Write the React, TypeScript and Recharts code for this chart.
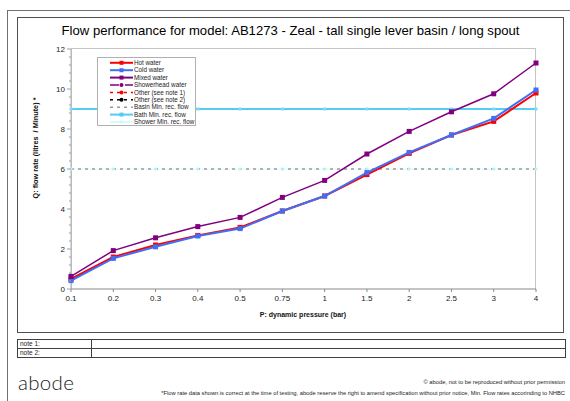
import { LineChart, Line, XAxis, YAxis } from 'recharts';

const pressures = ['0.1', '0.2', '0.3', '0.4', '0.5', '0.75', '1', '1.5', '2', '2.5', '3', '4'];
const hotWater = [0.5, 1.6, 2.2, 2.68, 3.08, 3.9, 4.65, 5.72, 6.78, 7.7, 8.38, 9.8];
const coldWater = [0.42, 1.53, 2.11, 2.65, 3.02, 3.9, 4.65, 5.82, 6.83, 7.7, 8.53, 9.95];
const mixedWater = [0.63, 1.92, 2.56, 3.12, 3.58, 4.58, 5.43, 6.75, 7.88, 8.86, 9.76, 11.3];
const basinMin = 6;
const bathMin = 9;
const showerMin = 6;
const yTickLabels = [0, 2, 4, 6, 8, 10, 12];

const data = pressures.map((p, i) => ({
  p,
  hot: hotWater[i],
  cold: coldWater[i],
  mixed: mixedWater[i],
  basin: basinMin,
  bath: bathMin,
  shower: showerMin,
}));

// excel-style minor ticks, 5 per major step
const yTicks: number[] = [];
for (let i = 0; i <= 30; i++) yTicks.push(Math.round(i * 4) / 10);

const FONT = 'Arial, "Liberation Sans", sans-serif';

function squareDot(fill: string, size: number) {
  return (props: any) => {
    const { cx, cy, index } = props;
    if (cx == null || cy == null) return <g key={index} />;
    return <rect key={index} x={cx - size / 2} y={cy - size / 2} width={size} height={size} fill={fill} />;
  };
}

function diamondDot(fill: string, size: number) {
  return (props: any) => {
    const { cx, cy, index } = props;
    if (cx == null || cy == null) return <g key={index} />;
    const s = size / 2;
    return <path key={index} d={`M${cx},${cy - s}L${cx + s},${cy}L${cx},${cy + s}L${cx - s},${cy}Z`} fill={fill} />;
  };
}

function YTick(props: any) {
  const { x, y, payload } = props;
  const v = payload.value;
  const major = yTickLabels.includes(v);
  const ax = x + 5;
  return (
    <g>
      <line x1={ax - (major ? 4 : 2)} x2={ax} y1={y} y2={y} stroke="#a0a0a0" strokeWidth={1} />
      {major && (
        <text x={x - 1} y={y} dy={3} textAnchor="end" fontSize={8} fill="#222" fontFamily={FONT}>
          {v}
        </text>
      )}
    </g>
  );
}

const legendRows = [
  { label: 'Hot water', color: '#ff0000', w: 2, dash: '', mark: 'sq' },
  { label: 'Cold water', color: '#3f6ff5', w: 2, dash: '', mark: 'sq' },
  { label: 'Mixed water', color: '#800080', w: 2, dash: '', mark: 'sq' },
  { label: 'Showerhead water', color: '#800080', w: 1.5, dash: '9 2 2 2', mark: 'ci' },
  { label: 'Other (see note 1)', color: '#ff0000', w: 1.5, dash: '3 4', mark: 'ci' },
  { label: 'Other (see note 2)', color: '#000000', w: 1.5, dash: '3 4', mark: 'ci' },
  { label: 'Basin Min. rec. flow', color: '#999999', w: 1.5, dash: '3 4', mark: '' },
  { label: 'Bath Min. rec. flow', color: '#55ccf0', w: 2, dash: '', mark: 'sq' },
  { label: 'Shower Min. rec. flow', color: '#c8fafa', w: 1.5, dash: '', mark: 'di' },
];

function LegendBox() {
  return (
    <div
      style={{
        position: 'absolute',
        left: 97,
        top: 57,
        width: 99,
        height: 69,
        border: '1px solid #b0b0b0',
        background: '#fff',
        boxSizing: 'border-box',
      }}
    >
      <svg width={99} height={69} style={{ display: 'block' }}>
        {legendRows.map((r, i) => {
          const y = 4.8 + i * 7.4;
          return (
            <g key={r.label}>
              <line x1={12} x2={35} y1={y} y2={y} stroke={r.color} strokeWidth={r.w} strokeDasharray={r.dash || undefined} />
              {r.mark === 'sq' && <rect x={21.5} y={y - 2} width={4} height={4} fill={r.color} />}
              {r.mark === 'ci' && <circle cx={23.5} cy={y} r={2} fill={r.color} />}
              {r.mark === 'di' && <path d={`M23.5,${y - 2}L25.5,${y}L23.5,${y + 2}L21.5,${y}Z`} fill={r.color} />}
              <text x={36} y={y} dy={2.2} fontSize={6.3} fill="#222" fontFamily={FONT}>
                {r.label}
              </text>
            </g>
          );
        })}
      </svg>
    </div>
  );
}

export default function App() {
  return (
    <div
      style={{
        position: 'absolute',
        left: 0,
        top: 0,
        width: 570,
        height: 401,
        overflow: 'hidden',
        background: '#fff',
        fontFamily: FONT,
      }}
    >
      {/* page frame */}
      <div style={{ position: 'absolute', left: 7, top: 10, width: 620, height: 440, border: '1px solid #707070' }} />
      {/* chart box */}
      <div style={{ position: 'absolute', left: 17, top: 17, width: 547, height: 316, border: '1px solid #505050', boxSizing: 'border-box' }} />
      <div style={{ position: 'absolute', left: 17, top: 22, width: 547, textAlign: 'center', fontSize: 13.1, lineHeight: '17px', color: '#000' }}>
        Flow performance for model: AB1273 - Zeal - tall single lever basin / long spout
      </div>
      {/* plot area border */}
      <div style={{ position: 'absolute', left: 71, top: 48, width: 465, height: 241, border: '1px solid #c4c4c4', borderBottom: 'none', boxSizing: 'border-box' }} />

      <div style={{ position: 'absolute', left: 17, top: 17 }}>
        <LineChart width={547} height={316} data={data} margin={{ top: 32, right: 28, left: 24, bottom: 14 }}>
          <XAxis
            dataKey="p"
            scale="point"
            padding={{ left: 0, right: 0 }}
            height={30}
            stroke="#888"
            tickSize={3}
            tickMargin={3}
            interval={0}
            tick={{ fontSize: 8, fill: '#222', fontFamily: FONT }}
          />
          <YAxis
            domain={[0, 12]}
            ticks={yTicks}
            interval={0}
            width={30}
            stroke="#b0b0b0"
            tickLine={false}
            tickSize={0}
            tickMargin={5}
            tick={<YTick />}
          />
          <Line dataKey="shower" stroke="#d8fcfc" strokeWidth={1} dot={diamondDot('#b8f4f4', 4)} isAnimationActive={false} />
          <Line dataKey="basin" stroke="#9a9a9a" strokeWidth={1.5} strokeDasharray="3 4" dot={false} isAnimationActive={false} />
          <Line dataKey="bath" stroke="#55ccf0" strokeWidth={1.8} dot={squareDot('#7fdaf5', 3)} isAnimationActive={false} />
          <Line dataKey="hot" stroke="#ff0000" strokeWidth={2} dot={squareDot('#ff0000', 5)} isAnimationActive={false} />
          <Line dataKey="cold" stroke="#3f6ff5" strokeWidth={2} dot={squareDot('#3f6ff5', 5)} isAnimationActive={false} />
          <Line dataKey="mixed" stroke="#800080" strokeWidth={1.5} dot={squareDot('#800080', 5)} isAnimationActive={false} />
        </LineChart>
      </div>

      <LegendBox />

      {/* axis titles */}
      <div
        style={{
          position: 'absolute',
          left: 35,
          top: 148,
          transform: 'translate(-50%, -50%) rotate(-90deg)',
          whiteSpace: 'nowrap',
          fontSize: 7.3,
          fontWeight: 'bold',
          color: '#111',
        }}
      >
        Q: flow rate (litres&nbsp; / Minute) *
      </div>
      <div style={{ position: 'absolute', left: 203, top: 311, width: 200, textAlign: 'center', fontSize: 7, fontWeight: 'bold', color: '#111' }}>
        P: dynamic pressure (bar)
      </div>

      {/* notes table */}
      <div style={{ position: 'absolute', left: 17, top: 339, width: 549, height: 19, border: '1px solid #404040', boxSizing: 'border-box', fontSize: 6.5, color: '#222' }}>
        <div style={{ position: 'absolute', left: 0, top: 8, width: '100%', borderTop: '1px solid #404040' }} />
        <div style={{ position: 'absolute', left: 73, top: 0, height: '100%', borderLeft: '1px solid #404040' }} />
        <div style={{ position: 'absolute', left: 2, top: 0, lineHeight: '8px' }}>note 1:</div>
        <div style={{ position: 'absolute', left: 2, top: 9, lineHeight: '8px' }}>note 2:</div>
      </div>

      {/* footer */}
      <div style={{ position: 'absolute', left: 18, top: 370, fontFamily: 'Lato, "Open Sans", sans-serif', fontWeight: 300, fontSize: 20.5, lineHeight: '24px', color: '#222', letterSpacing: 0.3 }}>
        abode
      </div>
      <div style={{ position: 'absolute', right: 5, top: 379, fontSize: 5.8, color: '#222', whiteSpace: 'nowrap' }}>
        © abode, not to be reproduced without prior permission
      </div>
      <div style={{ position: 'absolute', right: 5, top: 390, fontSize: 5.75, color: '#222', whiteSpace: 'nowrap' }}>
        *Flow rate data shown is correct at the time of testing, abode reserve the right to amend specification without prior notice, Min. Flow rates accorinding to NHBC
      </div>
    </div>
  );
}
